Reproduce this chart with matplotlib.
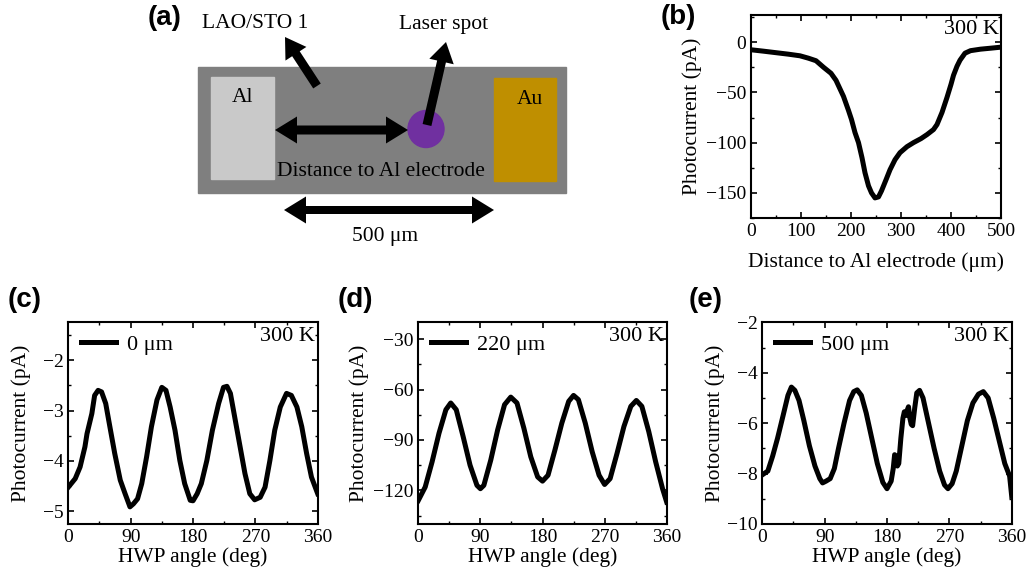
import numpy as np
import matplotlib
matplotlib.use("Agg")
import matplotlib.pyplot as plt
from matplotlib.patches import Rectangle, Ellipse, FancyArrow, Polygon
from matplotlib.ticker import AutoMinorLocator

plt.rcParams['font.family'] = ['Liberation Serif', 'DejaVu Serif']
plt.rcParams['font.size'] = 14

# ---------------- data ----------------
# (b) photocurrent vs distance
dist_um = [0, 25, 50, 75, 98, 115, 130, 145, 160, 170, 185, 195, 201, 208, 215, 222, 228, 235,
           241, 248, 255, 261, 270, 278, 288, 298, 312, 325, 340, 352, 365, 372, 382, 392,
           400, 405, 412, 418, 428, 439, 459, 480, 500]
pc_dist = [-7.6, -9, -10.5, -12, -13.6, -16, -18.5, -25, -31, -38, -54, -68, -77, -90, -100, -115,
           -130, -143, -150, -155, -154, -148, -137, -127, -117, -110, -104, -100, -96, -92, -87,
           -82, -70, -55, -42, -33, -24, -18, -11, -8.5, -7, -6, -5]

# (c) 0 um
ang_c = [0, 10, 17, 24, 27, 34, 38, 43, 48, 54, 60, 67, 75, 82, 89, 94, 100, 106, 113, 120, 128,
         135, 141, 147, 154, 161, 168, 176, 180, 186, 192, 200, 208, 217, 224, 229, 234, 241, 248,
         255, 262, 269, 277, 284, 291, 298, 306, 315, 322, 330, 337, 344, 351, 360]
pc_c = [-4.52, -4.35, -4.12, -3.72, -3.46, -3.06, -2.70, -2.60, -2.63, -2.86, -3.32, -3.85, -4.38,
        -4.65, -4.91, -4.85, -4.75, -4.45, -3.92, -3.32, -2.79, -2.54, -2.60, -2.93, -3.39, -3.99,
        -4.45, -4.78, -4.79, -4.65, -4.45, -3.99, -3.39, -2.86, -2.54, -2.52, -2.66, -3.19, -3.72,
        -4.25, -4.65, -4.77, -4.72, -4.52, -3.99, -3.39, -2.93, -2.66, -2.70, -2.93, -3.32, -3.85,
        -4.32, -4.65]

# (d) 220 um
ang_d = [0, 10, 20, 30, 40, 47, 55, 65, 75, 85, 90, 95, 105, 115, 125, 134, 143, 153, 163, 173,
         180, 188, 198, 208, 218, 225, 232, 242, 252, 262, 270, 278, 288, 298, 308, 316, 324, 334,
         344, 354, 360]
pc_d = [-126, -118, -103, -86, -72, -68, -72, -88, -105, -117, -119, -117, -102, -84, -69, -64.5,
        -68, -83, -100, -112, -114.5, -111, -96, -80, -67, -63.5, -66, -80, -97, -111, -116.5,
        -113, -98, -82, -70, -66.5, -70, -85, -103, -119, -127]

# (e) 500 um
ang_e = [0, 8, 15, 22, 30, 37, 42, 47, 53, 60, 68, 76, 83, 87, 92, 98, 104, 110, 118, 126, 132,
         137, 143, 150, 158, 166, 174, 180, 186, 189, 191, 193, 195, 197, 200, 203, 205, 207, 209,
         211, 213, 215, 217, 220, 223, 227, 232, 240, 248, 256, 263, 268, 274, 280, 288, 296, 304,
         312, 319, 326, 334, 342, 350, 357, 360]
pc_e = [-8.05, -7.9, -7.3, -6.6, -5.7, -4.9, -4.57, -4.7, -5.1, -5.9, -6.9, -7.7, -8.2, -8.37,
        -8.3, -8.2, -7.8, -7.0, -6.0, -5.1, -4.75, -4.68, -4.9, -5.6, -6.6, -7.6, -8.35, -8.6,
        -8.3, -7.8, -7.25, -7.3, -7.7, -7.6, -6.6, -5.8, -5.55, -5.7, -5.5, -5.35, -5.8, -6.05,
        -6.1, -5.4, -4.8, -4.7, -5.0, -6.0, -7.0, -7.9, -8.45, -8.6, -8.4, -7.9, -6.9, -5.9, -5.2,
        -4.85, -4.75, -5.0, -5.8, -6.7, -7.6, -8.1, -8.9]

legend_labels = ["0 μm", "220 μm", "500 μm"]
angle_ticks = [0, 90, 180, 270, 360]

# ---------------- figure ----------------
W, H = 1029, 578
fig = plt.figure(figsize=(W / 100, H / 100), dpi=100)

# schematic (a) in pixel coordinates
sch = fig.add_axes([0, 0, 1, 1], zorder=0)
sch.set_xlim(0, W)
sch.set_ylim(H, 0)
sch.axis('off')
sch.patch.set_alpha(0)

sch.add_patch(Rectangle((198, 67), 368, 126, color='#7f7f7f'))
sch.add_patch(Rectangle((211, 77), 63, 102, color='#c9c9c9'))
sch.add_patch(Rectangle((494, 78), 62, 103, color='#bf8f00'))
sch.add_patch(Ellipse((426, 129), 36, 37, color='#7030a0'))
TS = 15.5
sch.text(243, 98, "Al", fontsize=TS, ha='center', va='center')
sch.text(530, 100, "Au", fontsize=TS, ha='center', va='center')
sch.text(381, 172, "Distance to Al electrode", fontsize=TS, ha='center', va='center')
sch.text(255, 24, "LAO/STO 1", fontsize=TS, ha='center', va='center')
sch.text(444, 24, "Laser spot", fontsize=TS, ha='center', va='center')
sch.text(385, 236, "500 μm", fontsize=TS, ha='center', va='center')

def arrow(x0, y0, x1, y1, w=9, hw=27, hl=22):
    sch.add_patch(FancyArrow(x0, y0, x1 - x0, y1 - y0, width=w, head_width=hw,
                             head_length=hl, length_includes_head=True, color='black', lw=0))

def double_arrow(x0, x1, y, w=9, hw=27, hl=22):
    a, b = w / 2, hw / 2
    pts = [(x0, y), (x0 + hl, y - b), (x0 + hl, y - a), (x1 - hl, y - a), (x1 - hl, y - b),
           (x1, y), (x1 - hl, y + b), (x1 - hl, y + a), (x0 + hl, y + a), (x0 + hl, y + b)]
    sch.add_patch(Polygon(pts, closed=True, color='black', lw=0))

double_arrow(275, 408, 130)
double_arrow(284, 494, 210, w=8)
arrow(317, 86, 285, 37, w=9, hw=25, hl=20)
arrow(427, 125, 446, 42, w=9, hw=25, hl=20)


def style(ax):
    ax.tick_params(which='both', direction='in', top=True, right=True, labelsize=14)
    ax.tick_params(which='major', length=4.5, width=1.2)
    ax.tick_params(which='minor', length=2.5, width=1.0)
    ax.xaxis.set_minor_locator(AutoMinorLocator(2))
    ax.yaxis.set_minor_locator(AutoMinorLocator(2))
    for s in ax.spines.values():
        s.set_linewidth(1.5)
    ax.text(0.99, 0.975, "300 K", transform=ax.transAxes, ha='right', va='top', fontsize=16)

LW = 3.6
LS = 15.5

# (b)
axb = fig.add_axes([751 / W, 1 - 218 / H, 250 / W, 203 / H])
axb.plot(dist_um, pc_dist, color='black', lw=LW)
axb.set_xlim(0, 500)
axb.set_ylim(-175, 27)
axb.set_xticks([0, 100, 200, 300, 400, 500])
axb.set_yticks([0, -50, -100, -150])
axb.set_xlabel("Distance to Al electrode (μm)", fontsize=LS, labelpad=9)
axb.set_ylabel("Photocurrent (pA)", fontsize=LS, labelpad=3)
style(axb)

def hwp(left, right, ang, pc, ylim, yticks, label, ypad):
    ax = fig.add_axes([left / W, 1 - 524 / H, (right - left) / W, (524 - 322.3) / H])
    ax.plot(ang, pc, color='black', lw=LW, label=label)
    ax.set_xlim(0, 360)
    ax.set_ylim(*ylim)
    ax.set_xticks(angle_ticks)
    ax.set_yticks(yticks)
    ax.set_xlabel("HWP angle (deg)", fontsize=LS, labelpad=1)
    ax.set_ylabel("Photocurrent (pA)", fontsize=LS, labelpad=ypad)
    ax.legend(loc='upper left', frameon=False, fontsize=16, handlelength=1.6,
              borderaxespad=0.15, handletextpad=0.5)
    style(ax)
    return ax

hwp(68.3, 317.7, ang_c, pc_c, (-5.25, -1.25), [-2, -3, -4, -5], legend_labels[0], 8)
hwp(418.3, 666.7, ang_d, pc_d, (-140, -20), [-30, -60, -90, -120], legend_labels[1], 3)
hwp(762.3, 1011.7, ang_e, pc_e, (-10, -2), [-2, -4, -6, -8, -10], legend_labels[2], 1)

lab = dict(fontsize=20, fontweight='bold', family=['Liberation Sans', 'DejaVu Sans'],
           ha='left', va='center')
fig.text(148 / W, 1 - 18 / H, "(a)", **lab)
fig.text(661 / W, 1 - 17 / H, "(b)", **lab)
fig.text(8 / W, 1 - 300 / H, "(c)", **lab)
fig.text(338 / W, 1 - 300 / H, "(d)", **lab)
fig.text(689 / W, 1 - 300 / H, "(e)", **lab)

fig.savefig("out.png", dpi=100)
